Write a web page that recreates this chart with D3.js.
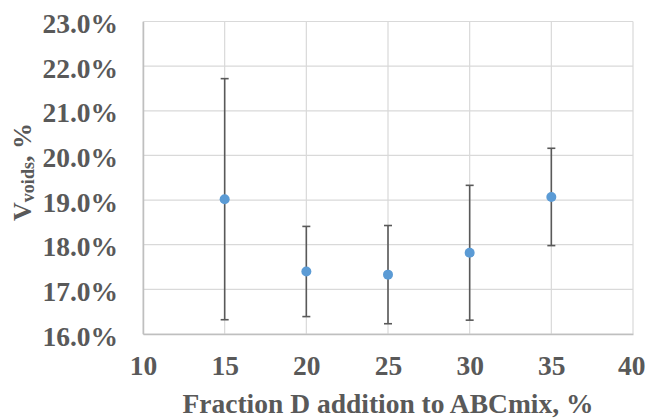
<!DOCTYPE html>
<html>
<head>
<meta charset="utf-8">
<script src="https://cdn.jsdelivr.net/npm/d3@7"></script>
<style>
body { margin: 0; background: #fff; }
svg text { font-family: "Liberation Serif", "Times New Roman", serif; font-weight: bold; fill: #595959; }
</style>
</head>
<body>
<svg width="645" height="418"></svg>
<script>
// data
var fractions = [15, 20, 25, 30, 35];
var voids = [19.02, 17.40, 17.33, 17.82, 19.07];
var errors = [2.70, 1.01, 1.10, 1.51, 1.09];
var xTicks = [10, 15, 20, 25, 30, 35, 40];
var yTicks = [16, 17, 18, 19, 20, 21, 22, 23];

var svg = d3.select("svg"),
	margin = {top: 21.5, right: 12, bottom: 84, left: 143},
	width = 645 - margin.left - margin.right,
	height = 418 - margin.top - margin.bottom,
	g = svg.append("g").attr("transform", "translate(" + margin.left + "," + margin.top + ")");

var x = d3.scaleLinear().domain([10, 40]).range([0, width]);
var y = d3.scaleLinear().domain([16, 23]).range([height, 0]);

// grid
g.append("g")
	.selectAll("line.h")
	.data(yTicks)
	.enter().append("line")
	.attr("x1", 0).attr("x2", width)
	.attr("y1", function(d) { return y(d); })
	.attr("y2", function(d) { return y(d); })
	.attr("stroke", "#d9d9d9")
	.attr("stroke-width", 1.2);

g.append("g")
	.selectAll("line.v")
	.data(xTicks)
	.enter().append("line")
	.attr("y1", 0).attr("y2", height)
	.attr("x1", function(d) { return x(d); })
	.attr("x2", function(d) { return x(d); })
	.attr("stroke", "#d9d9d9")
	.attr("stroke-width", 1.2);

// axes
var yAxis = g.append("g")
	.call(d3.axisLeft(y).tickValues(yTicks).tickSize(0).tickPadding(25)
		.tickFormat(function(d) { return d.toFixed(1) + "%"; }));
yAxis.select(".domain").attr("stroke", "#bfbfbf").attr("stroke-width", 1.5);
yAxis.selectAll("text").attr("font-size", "27.5px").attr("dy", "0.4em").attr("fill", "#595959")
	.style("font-family", "Liberation Serif");

var xAxis = g.append("g")
	.attr("transform", "translate(0," + height + ")")
	.call(d3.axisBottom(x).tickValues(xTicks).tickSize(0).tickPadding(21));
xAxis.select(".domain").attr("stroke", "#bfbfbf").attr("stroke-width", 1.5);
xAxis.selectAll("text").attr("font-size", "27.5px").attr("fill", "#595959")
	.style("font-family", "Liberation Serif");
// last label sits against the right edge
xAxis.selectAll(".tick").filter(function(d) { return d === 40; })
	.select("text").attr("text-anchor", "end").attr("x", 12);

// error bars
var points = fractions.map(function(f, i) {
	return {x: f, v: voids[i], e: errors[i]};
});

var bars = g.append("g").selectAll("g").data(points).enter().append("g");
bars.append("line")
	.attr("x1", function(d) { return x(d.x); })
	.attr("x2", function(d) { return x(d.x); })
	.attr("y1", function(d) { return y(d.v + d.e); })
	.attr("y2", function(d) { return y(d.v - d.e); })
	.attr("stroke", "#595959").attr("stroke-width", 1.6);
bars.append("line")
	.attr("x1", function(d) { return x(d.x) - 4; })
	.attr("x2", function(d) { return x(d.x) + 4; })
	.attr("y1", function(d) { return y(d.v + d.e); })
	.attr("y2", function(d) { return y(d.v + d.e); })
	.attr("stroke", "#595959").attr("stroke-width", 1.6);
bars.append("line")
	.attr("x1", function(d) { return x(d.x) - 4; })
	.attr("x2", function(d) { return x(d.x) + 4; })
	.attr("y1", function(d) { return y(d.v - d.e); })
	.attr("y2", function(d) { return y(d.v - d.e); })
	.attr("stroke", "#595959").attr("stroke-width", 1.6);

g.append("g").selectAll("circle").data(points).enter().append("circle")
	.attr("cx", function(d) { return x(d.x); })
	.attr("cy", function(d) { return y(d.v); })
	.attr("r", 5)
	.attr("fill", "#5b9bd5");

// axis titles
svg.append("text")
	.attr("x", margin.left + width / 2)
	.attr("y", 413)
	.attr("text-anchor", "middle")
	.attr("font-size", "27.5px")
	.text("Fraction D addition to ABCmix, %");

var yt = svg.append("text")
	.attr("transform", "translate(31,172) rotate(-90)")
	.attr("text-anchor", "middle")
	.attr("font-size", "26px");
yt.append("tspan").text("V");
yt.append("tspan").attr("font-size", "18px").attr("dy", "3").text("voids");
yt.append("tspan").attr("dy", "-3").text(", %");
</script>
</body>
</html>
